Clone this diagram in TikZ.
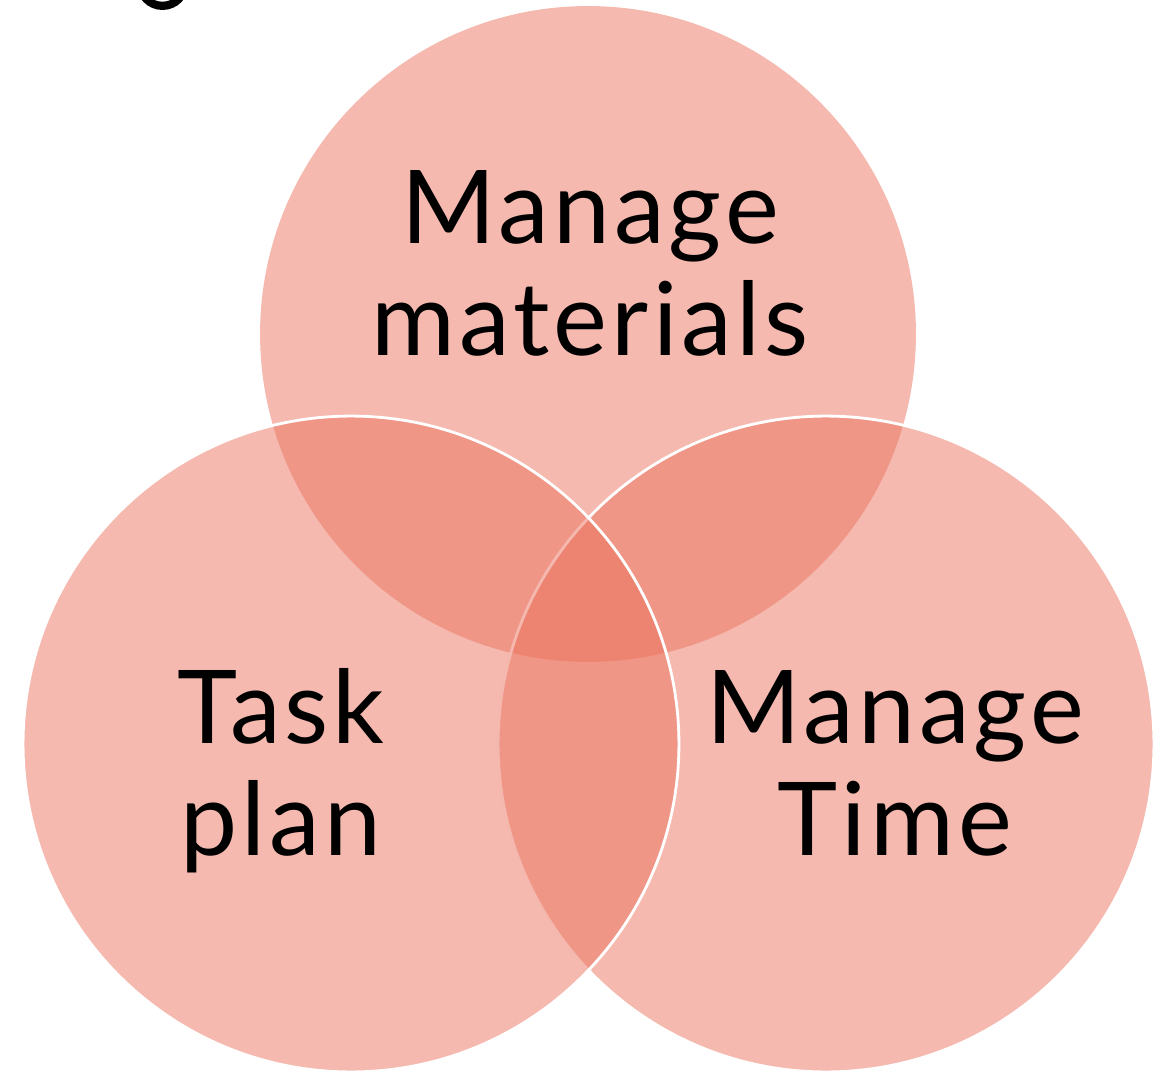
\documentclass[tikz,border=0pt]{standalone}
\usepackage{fontspec}
\setmainfont{Lato}
\usetikzlibrary{positioning}
\definecolor{vennRed}{HTML}{EB735F}

\begin{document}
\begin{tikzpicture}[
      x=0.02cm, y=0.02cm,
      venn/.style={circle, fill=vennRed, fill opacity=0.5, inner sep=0pt,
                   minimum size=13.12cm},
      vennedge/.style={venn, draw=white, line width=1.6pt},
      lbl/.style={font=\fontsize{58}{63.7}\selectfont\addfontfeatures{LetterSpace=4},
                  align=center, anchor=base},
    ]
      \useasboundingbox (0,0) rectangle (1166,-1071);

      % tail of the title letter, cut at the top edge
      \begin{scope}
        \clip (0,0) rectangle (1166,-1071);
        \fill[even odd rule] (162.5,16.6) circle (26.6) (162.5,18) circle (19.7);
      \end{scope}

      % the three sets: top first, then right, left last
      \node[venn] (materials) at (588,-334) {};
      \node[vennedge] (time) at (826,-744) {};
      \node[vennedge] (task) at (351,-744) {};

      % labels (anchored on the baseline of the second line)
      \node[lbl] (materialsText) at (590,-355) {Manage\\materials};
      \node[lbl] (taskText) at (281,-855) {Task\\plan};
      \node[lbl] (timeText) at (895,-855) {Manage\\Time};

    \end{tikzpicture}
\end{document}
